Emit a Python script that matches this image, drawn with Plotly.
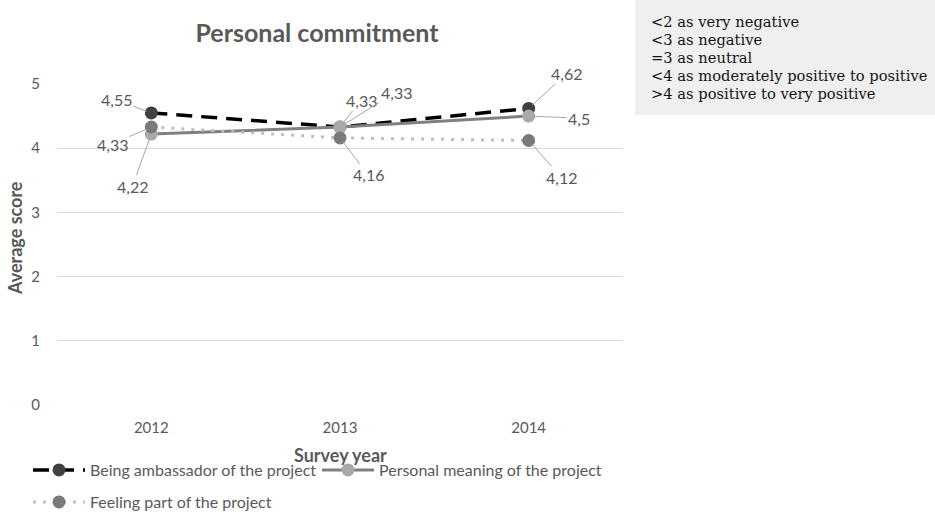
import plotly.graph_objects as go

# Survey data
years = ["2012", "2013", "2014"]
ambassador = [4.55, 4.33, 4.62]
meaning = [4.22, 4.33, 4.50]
feeling = [4.33, 4.16, 4.12]

series_names = [
    "Being ambassador of the project",
    "Personal meaning of the project",
    "Feeling part of the project",
]

scale_notes = [
    "<2 as very negative",
    "<3 as negative",
    "=3 as neutral",
    "<4 as moderately positive to positive",
    ">4 as positive to very positive",
]

# label offsets (px) relative to each point: (dx, dy)
label_offsets = {
    0: [(-35, -13), (21, -27), (38, -35)],
    1: [(-19, 52), (56, -35), (50, 2)],
    2: [(-39, 17), (28, 37), (33, 37)],
}

W, H = 935, 517
ML, MR, MT, MB = 57, 312, 84, 112
PW, PH = W - ML - MR, H - MT - MB

def px_x(px):
    return (px - ML) / PW

def px_y(py):
    return (H - MB - py) / PH

SANS = "Lato, 'Open Sans', sans-serif"
TXT = "#595959"

styles = [
    dict(line=dict(color="#000000", width=3.5, dash="16px,9px"),
         marker=dict(color="#404040", size=13)),
    dict(line=dict(color="#808080", width=3),
         marker=dict(color="#a9a9a9", size=13)),
    dict(line=dict(color="#bfbfbf", width=3, dash="3px,7px"),
         marker=dict(color="#7a7a7a", size=13)),
]

all_series = [ambassador, meaning, feeling]
legend_ids = ["legend", "legend2", "legend3"]

fig = go.Figure()
for i, (name, vals) in enumerate(zip(series_names, all_series)):
    fig.add_trace(go.Scatter(
        x=years, y=vals, name=name, mode="lines+markers",
        line=styles[i]["line"], marker=styles[i]["marker"],
        legend=legend_ids[i], cliponaxis=False,
    ))

# data labels with leader lines (category axis -> serial index)
annotations = []
for i, vals in enumerate(all_series):
    for j, v in enumerate(vals):
        dx, dy = label_offsets[i][j]
        annotations.append(dict(
            x=j, y=v, xref="x", yref="y",
            text=f"{v:g}".replace(".", ","),
            showarrow=True, arrowhead=0, arrowwidth=1, arrowcolor="#a6a6a6",
            ax=dx, ay=dy, standoff=5,
            font=dict(family=SANS, size=16, color=TXT),
        ))

# axis titles
annotations.append(dict(
    x=0.5, y=px_y(455), xref="paper", yref="paper", showarrow=False,
    xanchor="center", yanchor="middle", text="<b>Survey year</b>",
    font=dict(family=SANS, size=18, color=TXT),
))
annotations.append(dict(
    x=px_x(15), y=px_y(238), xref="paper", yref="paper", showarrow=False,
    xanchor="center", yanchor="middle", textangle=-90, text="<b>Average score</b>",
    font=dict(family=SANS, size=18, color=TXT),
))

# scale explanation box
for k, line in enumerate(scale_notes):
    annotations.append(dict(
        x=px_x(649), y=px_y(21 + 18 * k), xref="paper", yref="paper",
        xanchor="left", yanchor="middle", showarrow=False,
        text=line, font=dict(family="'DejaVu Serif', serif", size=14.7, color="#141414"),
    ))

fig.add_shape(type="rect", xref="paper", yref="paper",
              x0=px_x(635), x1=px_x(935), y0=px_y(115), y1=px_y(0),
              fillcolor="#efefef", line=dict(width=0), layer="below")

legend_common = dict(
    orientation="h", xref="container", yref="container",
    xanchor="left", yanchor="middle",
    font=dict(family=SANS, size=16, color=TXT), itemwidth=52,
    bgcolor="rgba(0,0,0,0)",
)

fig.update_layout(
    width=W, height=H,
    margin=dict(l=ML, r=MR, t=MT, b=MB),
    paper_bgcolor="white", plot_bgcolor="white",
    title=dict(text="<b>Personal commitment</b>", x=317 / W, xref="container",
               xanchor="center", y=1 - 33 / H, yref="container", yanchor="middle",
               font=dict(family=SANS, size=25, color=TXT)),
    xaxis=dict(type="category", range=[-0.5, 2.5], showgrid=False, showline=False,
               zeroline=False, ticks="", ticklabelstandoff=12, automargin=False,
               tickfont=dict(family=SANS, size=15, color=TXT)),
    yaxis=dict(range=[0, 5], dtick=1, showgrid=True, gridcolor="#d9d9d9", gridwidth=1,
               zeroline=False, showline=False, ticks="", ticklabelstandoff=16,
               automargin=False,
               tickfont=dict(family=SANS, size=15, color=TXT)),
    legend=dict(legend_common, x=28 / W, y=1 - 470 / H),
    legend2=dict(legend_common, x=317 / W, y=1 - 470 / H),
    legend3=dict(legend_common, x=28 / W, y=1 - 502 / H),
    annotations=annotations,
    showlegend=True,
)

fig.write_html("out.html")
